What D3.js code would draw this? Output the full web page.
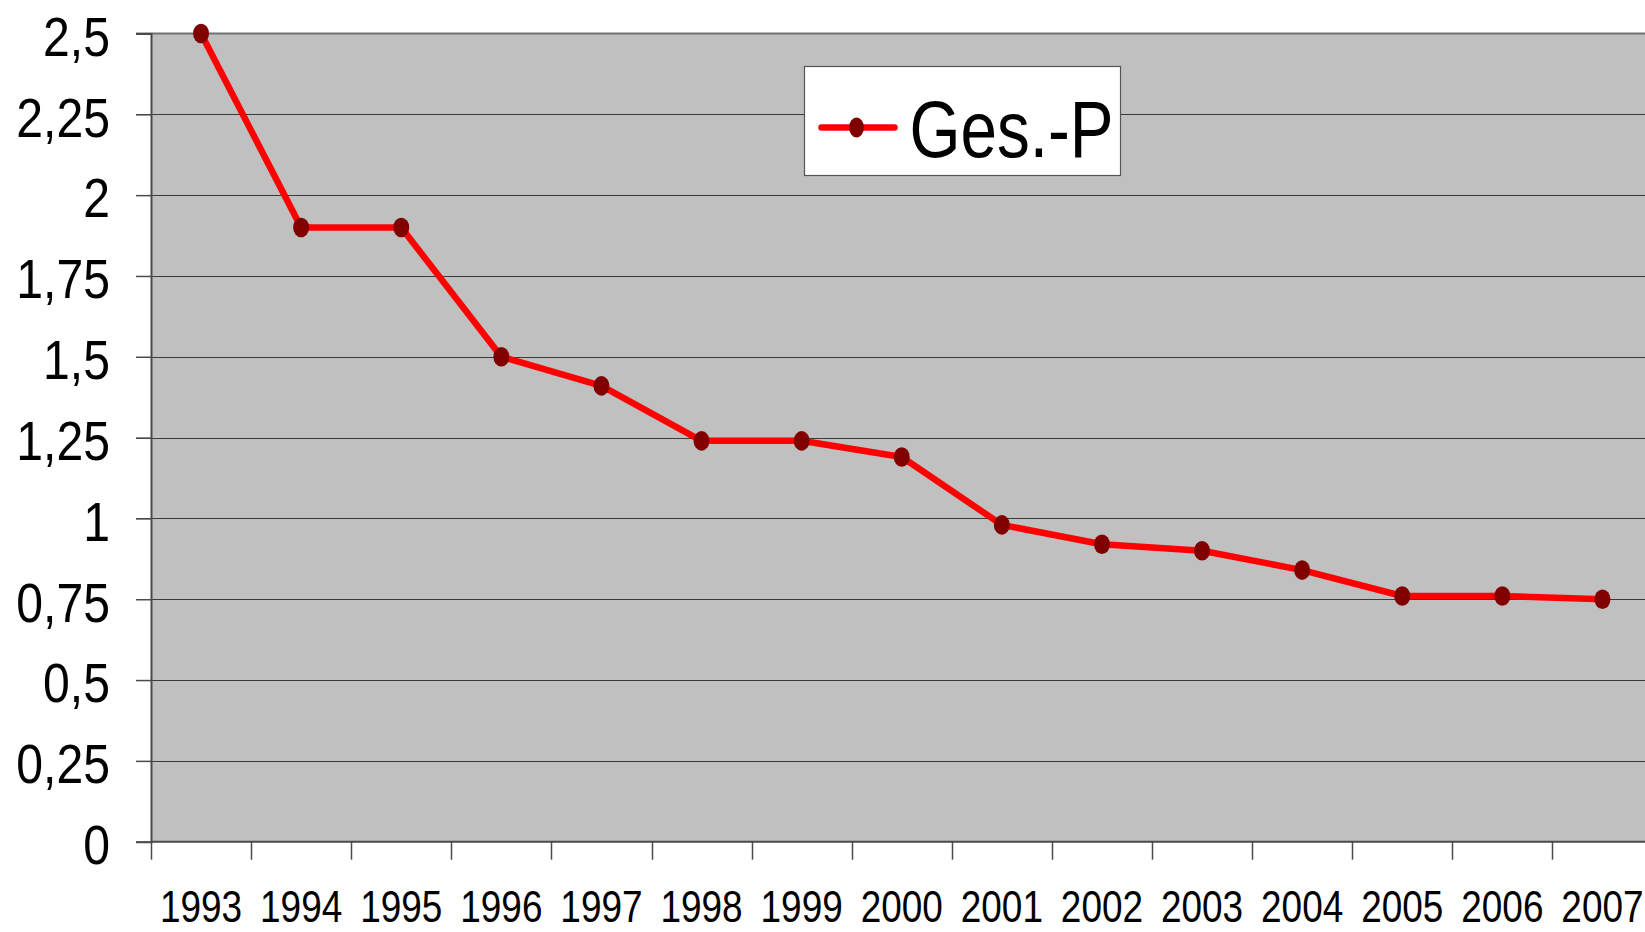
<!DOCTYPE html>
<html>
  <head>
    <title>Ges.-P 1993-2007</title>
    <meta charset="UTF-8">
    <style>
      body { margin: 0; background: #ffffff; }
      svg { display: block; }
      text { font-family: "Liberation Sans", Arial, sans-serif; fill: #000000; }
    </style>
  </head>
  <body>
    <svg></svg>

    <script src="https://d3js.org/d3.v7.min.js"></script>
    <script>

// categories (years) and the one series
var years = ["1993", "1994", "1995", "1996", "1997", "1998", "1999", "2000",
             "2001", "2002", "2003", "2004", "2005", "2006", "2007"];
var gesP = [2.5, 1.9, 1.9, 1.5, 1.41, 1.24, 1.24, 1.19,
            0.98, 0.92, 0.90, 0.84, 0.76, 0.76, 0.75];
var yTicks = [0, 0.25, 0.5, 0.75, 1, 1.25, 1.5, 1.75, 2, 2.25, 2.5];
var seriesName = "Ges.-P";

var config = {
  "width": 1645,
  "height": 932,
  "plot": { "left": 151, "top": 33.5, "bottom": 841.7, "step": 100.1 },
  "squeeze": 0.84   // the original chart text is horizontally compressed
};

var svg = d3.select("svg")
  .attr("width", config.width)
  .attr("height", config.height);

var p = config.plot;
var plotRight = p.left + p.step * years.length;

var x = d3.scaleBand()
  .domain(years)
  .range([p.left, plotRight])
  .paddingInner(0)
  .paddingOuter(0);

var y = d3.scaleLinear()
  .domain([0, 2.5])
  .range([p.bottom, p.top]);

// grey plot background
svg.append("rect")
  .attr("x", p.left)
  .attr("y", p.top)
  .attr("width", plotRight - p.left)
  .attr("height", p.bottom - p.top)
  .attr("fill", "#c0c0c0");

// horizontal gridlines (they also poke out left as tick marks)
svg.append("g")
  .selectAll("line")
  .data(yTicks.filter(function(d){ return d > 0 && d < 2.5; }))
  .enter().append("line")
    .attr("x1", p.left - 15)
    .attr("x2", plotRight)
    .attr("y1", function(d){ return Math.round(y(d)) + 0.5; })
    .attr("y2", function(d){ return Math.round(y(d)) + 0.5; })
    .attr("stroke", "#3a3a3a")
    .attr("stroke-width", 1);

// top border of the plot area
svg.append("line")
  .attr("x1", p.left - 15)
  .attr("x2", plotRight)
  .attr("y1", y(2.5))
  .attr("y2", y(2.5))
  .attr("stroke", "#707070")
  .attr("stroke-width", 2);

// y axis with labels
var yAxis = d3.axisLeft(y)
  .tickValues(yTicks)
  .tickSize(15)
  .tickPadding(26)
  .tickFormat(function(d){ return String(d).replace(".", ","); });

var yG = svg.append("g")
  .attr("transform", "translate(" + p.left + ",0)")
  .call(yAxis);
yG.select(".domain").attr("stroke", "#4a4a4a").attr("stroke-width", 2);
yG.selectAll(".tick line").attr("stroke", "#4a4a4a").attr("stroke-width", 1.5);
yG.selectAll(".tick text")
  .attr("font-size", 56)
  .attr("font-family", "Liberation Sans, Arial, sans-serif")
  .attr("fill", "#000")
  .attr("dy", "0.39em")
  .attr("x", -41 / 0.86)
  .attr("transform", "scale(0.86,1)");

// x axis line
svg.append("line")
  .attr("x1", p.left)
  .attr("x2", plotRight)
  .attr("y1", y(0))
  .attr("y2", y(0))
  .attr("stroke", "#4a4a4a")
  .attr("stroke-width", 2);

// x tick marks sit between categories
svg.append("g")
  .selectAll("line")
  .data(years)
  .enter().append("line")
    .attr("x1", function(d){ return Math.round(x(d)) + 0.5; })
    .attr("x2", function(d){ return Math.round(x(d)) + 0.5; })
    .attr("y1", y(0))
    .attr("y2", y(0) + 18)
    .attr("stroke", "#4a4a4a")
    .attr("stroke-width", 1.5);

// x labels centred in each category
svg.append("g")
  .selectAll("text")
  .data(years)
  .enter().append("text")
    .attr("transform", function(d){
      return "translate(" + (x(d) + x.bandwidth() / 2) + ",922) scale(" + config.squeeze + ",1)";
    })
    .attr("text-anchor", "middle")
    .attr("font-size", 44)
    .text(function(d){ return d; });

// the line
var line = d3.line()
  .x(function(d, i){ return x(years[i]) + x.bandwidth() / 2; })
  .y(function(d){ return y(d); });

svg.append("path")
  .datum(gesP)
  .attr("d", line)
  .attr("fill", "none")
  .attr("stroke", "#ff0000")
  .attr("stroke-width", 6.5)
  .attr("stroke-linejoin", "round");

// markers (a bit taller than wide, like the stretched original)
svg.append("g")
  .selectAll("ellipse")
  .data(gesP)
  .enter().append("ellipse")
    .attr("cx", function(d, i){ return x(years[i]) + x.bandwidth() / 2; })
    .attr("cy", function(d){ return y(d); })
    .attr("rx", 8)
    .attr("ry", 9.8)
    .attr("fill", "#800000");

// legend
var legend = svg.append("g").attr("transform", "translate(804.5,66.5)");
legend.append("rect")
  .attr("width", 316)
  .attr("height", 109)
  .attr("fill", "#ffffff")
  .attr("stroke", "#555555")
  .attr("stroke-width", 1.2);
legend.append("line")
  .attr("x1", 17)
  .attr("x2", 90)
  .attr("y1", 61)
  .attr("y2", 61)
  .attr("stroke", "#ff0000")
  .attr("stroke-width", 6.5)
  .attr("stroke-linecap", "round");
legend.append("ellipse")
  .attr("cx", 52)
  .attr("cy", 61)
  .attr("rx", 7.5)
  .attr("ry", 10)
  .attr("fill", "#800000");
legend.append("text")
  .attr("transform", "translate(105,90) scale(0.83,1)")
  .attr("font-size", 79)
  .text(seriesName);

    </script>
  </body>
</html>
